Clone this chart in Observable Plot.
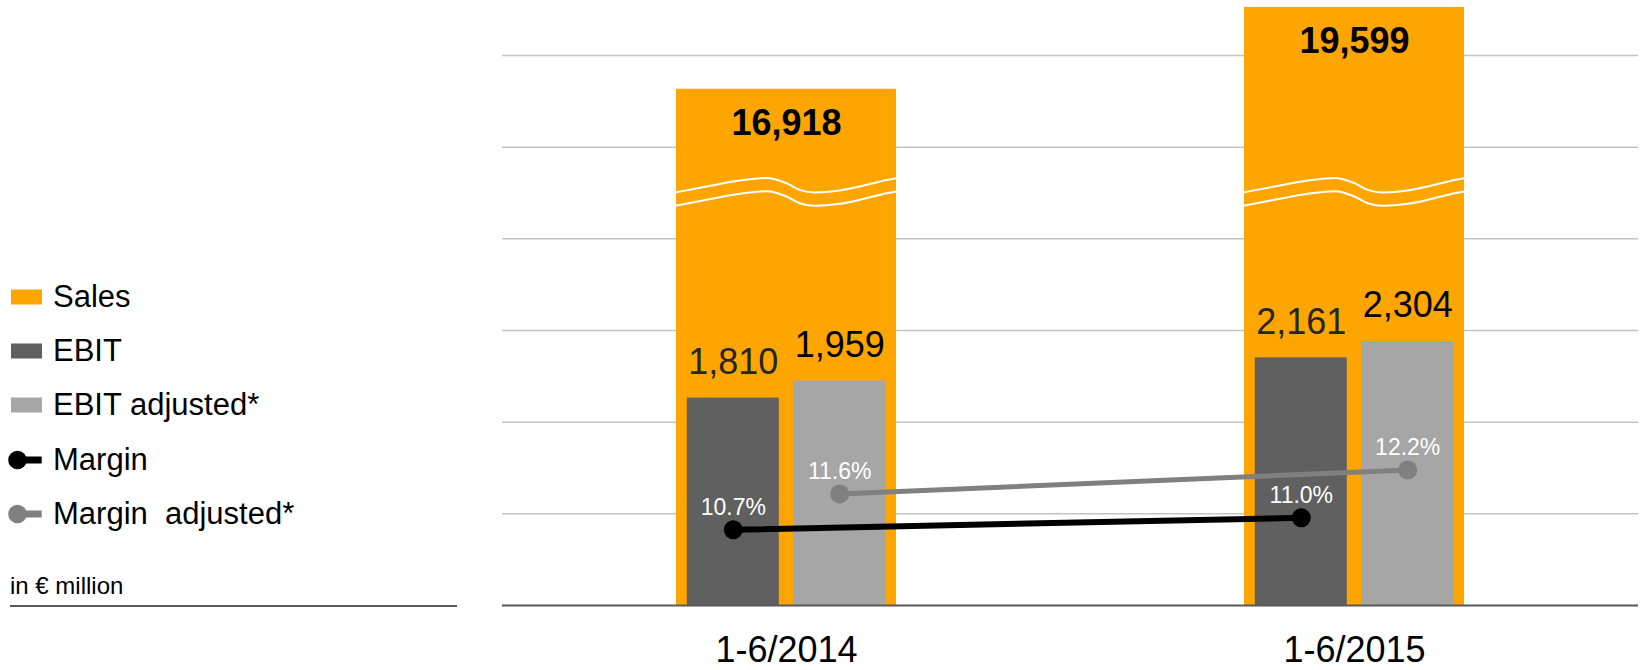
<!DOCTYPE html>
<html>
<head>
<meta charset="utf-8">
<script src="https://cdn.jsdelivr.net/npm/d3@7"></script>
<script src="https://cdn.jsdelivr.net/npm/@observablehq/plot@0.6"></script>
<style>
  html, body { margin: 0; padding: 0; background: #fff; }
  body { font-family: "Liberation Sans", Arial, sans-serif; color: #000; }
  #wrap { position: relative; width: 1643px; height: 670px; overflow: hidden; }
  #chart { position: absolute; left: 0; top: 0; }
  .lg-icon { position: absolute; left: 0; }
  .lg-text { position: absolute; left: 53px; font-size: 31px; line-height: 31px; white-space: pre; }
  #unit { position: absolute; left: 10px; font-size: 24px; line-height: 24px; white-space: nowrap; }
  #unitRule { position: absolute; left: 10px; width: 447px; height: 2px; background: #595959; }
</style>
</head>
<body>
<div id="wrap">
  <div id="chart"></div>
  <div id="legend"></div>
  <div id="unit">in € million</div>
  <div id="unitRule"></div>
</div>
<script>
// ---- data ----
const periods = ["1-6/2014", "1-6/2015"];
const sales = [16918, 19599];
const ebit = [1810, 2161];
const ebitAdjusted = [1959, 2304];
const margin = [10.7, 11.0];
const marginAdjusted = [11.6, 12.2];
const yTicks = [800, 1600, 2400, 3200, 4000, 4800];
const legendLabels = ["Sales", "EBIT", "EBIT adjusted*", "Margin", "Margin  adjusted*"];

// ---- layout / style ----
const W = 1643, H = 670;
const mL = 502, mR = 5, mT = 55, mB = 65;
const yMax = 4800;
const stepPx = (W - mL - mR) / 2;          // px per category
const pxX = v => v / stepPx;                // px -> x units
const pxY = v => v * yMax / (H - mT - mB);  // px -> y units
const salesHalf = pxX(110);
const subOffset = pxX(53.2);
const subHalf = pxX(46);
const salesAxisScale = 0.2663;              // broken (compressed) sales axis
const marginAxis = d3.scaleLinear().domain([8.8, 22.6]).range([0, yMax]); // secondary axis
const colors = {sales: "#FFA500", ebit: "#606060", ebitAdj: "#A6A6A6", margin: "#000000", marginAdj: "#808080"};

const rows = periods.map((p, i) => ({
  i, period: p, sales: sales[i], ebit: ebit[i], ebitAdj: ebitAdjusted[i],
  margin: margin[i], marginAdj: marginAdjusted[i]
}));

// axis-break wave decoration (fraction across bar, offset upward in px)
const waveShape = [[0, 0], [0.136, 5.7], [0.288, 11.7], [0.41, 14.3], [0.5, 9], [0.56, 2.3],
                   [0.63, -0.3], [0.742, 1.7], [0.833, 5.7], [0.955, 12.3], [1, 14]];
const waveLevel = 3607;     // y units where the break sits
const waveGap = 13.3;       // px between the two white lines
const waves = [];
rows.forEach(r => {
  [0, 1].forEach(k => {
    waveShape.forEach(([f, off]) => {
      waves.push({key: r.i + "-" + k, x: r.i - salesHalf + f * 2 * salesHalf,
                  y: waveLevel + pxY(off) - k * pxY(waveGap)});
    });
  });
});

const fmt = d3.format(",");
const pct = v => d3.format(".1f")(v) + "%";

const chart = Plot.plot({
  width: W, height: H,
  marginLeft: mL, marginRight: mR, marginTop: mT, marginBottom: mB,
  style: {fontFamily: "'Liberation Sans', Arial, sans-serif", background: "transparent", overflow: "visible"},
  x: {domain: [-0.5, 1.5]},
  y: {domain: [0, yMax], axis: null},
  marks: [
    Plot.gridY(yTicks, {stroke: "#c4c4c4", strokeOpacity: 1, strokeWidth: 1.5}),
    Plot.rect(rows, {x1: d => d.i - salesHalf, x2: d => d.i + salesHalf, y1: 0, y2: d => d.sales * salesAxisScale, fill: colors.sales}),
    Plot.line(waves, {x: "x", y: "y", z: "key", stroke: "white", strokeWidth: 2, curve: "monotone-x"}),
    Plot.rect(rows, {x1: d => d.i - subOffset - subHalf, x2: d => d.i - subOffset + subHalf, y1: 0, y2: "ebit", fill: colors.ebit}),
    Plot.rect(rows, {x1: d => d.i + subOffset - subHalf, x2: d => d.i + subOffset + subHalf, y1: 0, y2: "ebitAdj", fill: colors.ebitAdj}),
    Plot.ruleY([0], {stroke: "#595959", strokeWidth: 2}),
    Plot.text(rows, {x: "i", y: d => d.sales * salesAxisScale, text: d => fmt(d.sales), fontSize: 36, fontWeight: "bold", fill: "#000", lineAnchor: "middle", dy: 34}),
    Plot.text(rows, {x: d => d.i - subOffset, y: "ebit", text: d => fmt(d.ebit), fontSize: 36, fill: "#262626", lineAnchor: "middle", dy: -35.6}),
    Plot.text(rows, {x: d => d.i + subOffset, y: "ebitAdj", text: d => fmt(d.ebitAdj), fontSize: 36, fill: "#000", lineAnchor: "middle", dy: -35.6}),
    Plot.line(rows, {x: d => d.i + subOffset, y: d => marginAxis(d.marginAdj), stroke: colors.marginAdj, strokeWidth: 5}),
    Plot.dot(rows, {x: d => d.i + subOffset, y: d => marginAxis(d.marginAdj), r: 9.5, fill: colors.marginAdj, stroke: "none"}),
    Plot.line(rows, {x: d => d.i - subOffset, y: d => marginAxis(d.margin), stroke: colors.margin, strokeWidth: 6}),
    Plot.dot(rows, {x: d => d.i - subOffset, y: d => marginAxis(d.margin), r: 9.5, fill: colors.margin, stroke: "none"}),
    Plot.text(rows, {x: d => d.i + subOffset, y: d => marginAxis(d.marginAdj), text: d => pct(d.marginAdj), fontSize: 23, fill: "white", lineAnchor: "middle", dy: -22.5}),
    Plot.text(rows, {x: d => d.i - subOffset, y: d => marginAxis(d.margin), text: d => pct(d.margin), fontSize: 23, fill: "white", lineAnchor: "middle", dy: -22.5}),
    Plot.axisX({ticks: [0, 1], tickFormat: i => periods[i], tickSize: 0, tickPadding: 31, fontSize: 36, label: null, fill: "#000"})
  ]
});
document.getElementById("chart").appendChild(chart);

// ---- legend ----
const legendCenters = [296.7, 350.8, 404.7, 459.5, 513.7];
const legendKinds = [
  {type: "box", color: colors.sales},
  {type: "box", color: colors.ebit},
  {type: "box", color: colors.ebitAdj},
  {type: "line", color: colors.margin},
  {type: "line", color: colors.marginAdj}
];
const legend = document.getElementById("legend");
legendLabels.forEach((label, k) => {
  const cy = legendCenters[k];
  const kind = legendKinds[k];
  const icon = document.createElementNS("http://www.w3.org/2000/svg", "svg");
  icon.setAttribute("class", "lg-icon");
  icon.setAttribute("width", 50);
  icon.setAttribute("height", 30);
  icon.style.top = (cy - 15) + "px";
  if (kind.type === "box") {
    icon.innerHTML = `<rect x="11" y="7.5" width="31" height="15" fill="${kind.color}"/>`;
  } else {
    icon.innerHTML = `<rect x="17" y="11.5" width="24.7" height="7" fill="${kind.color}"/><circle cx="17.5" cy="15" r="9.3" fill="${kind.color}"/>`;
  }
  legend.appendChild(icon);
  const t = document.createElement("div");
  t.className = "lg-text";
  t.textContent = label;
  t.style.top = (cy - 15.5) + "px";
  legend.appendChild(t);
});
document.getElementById("unit").style.top = "574px";
document.getElementById("unitRule").style.top = "604.7px";
</script>
</body>
</html>
